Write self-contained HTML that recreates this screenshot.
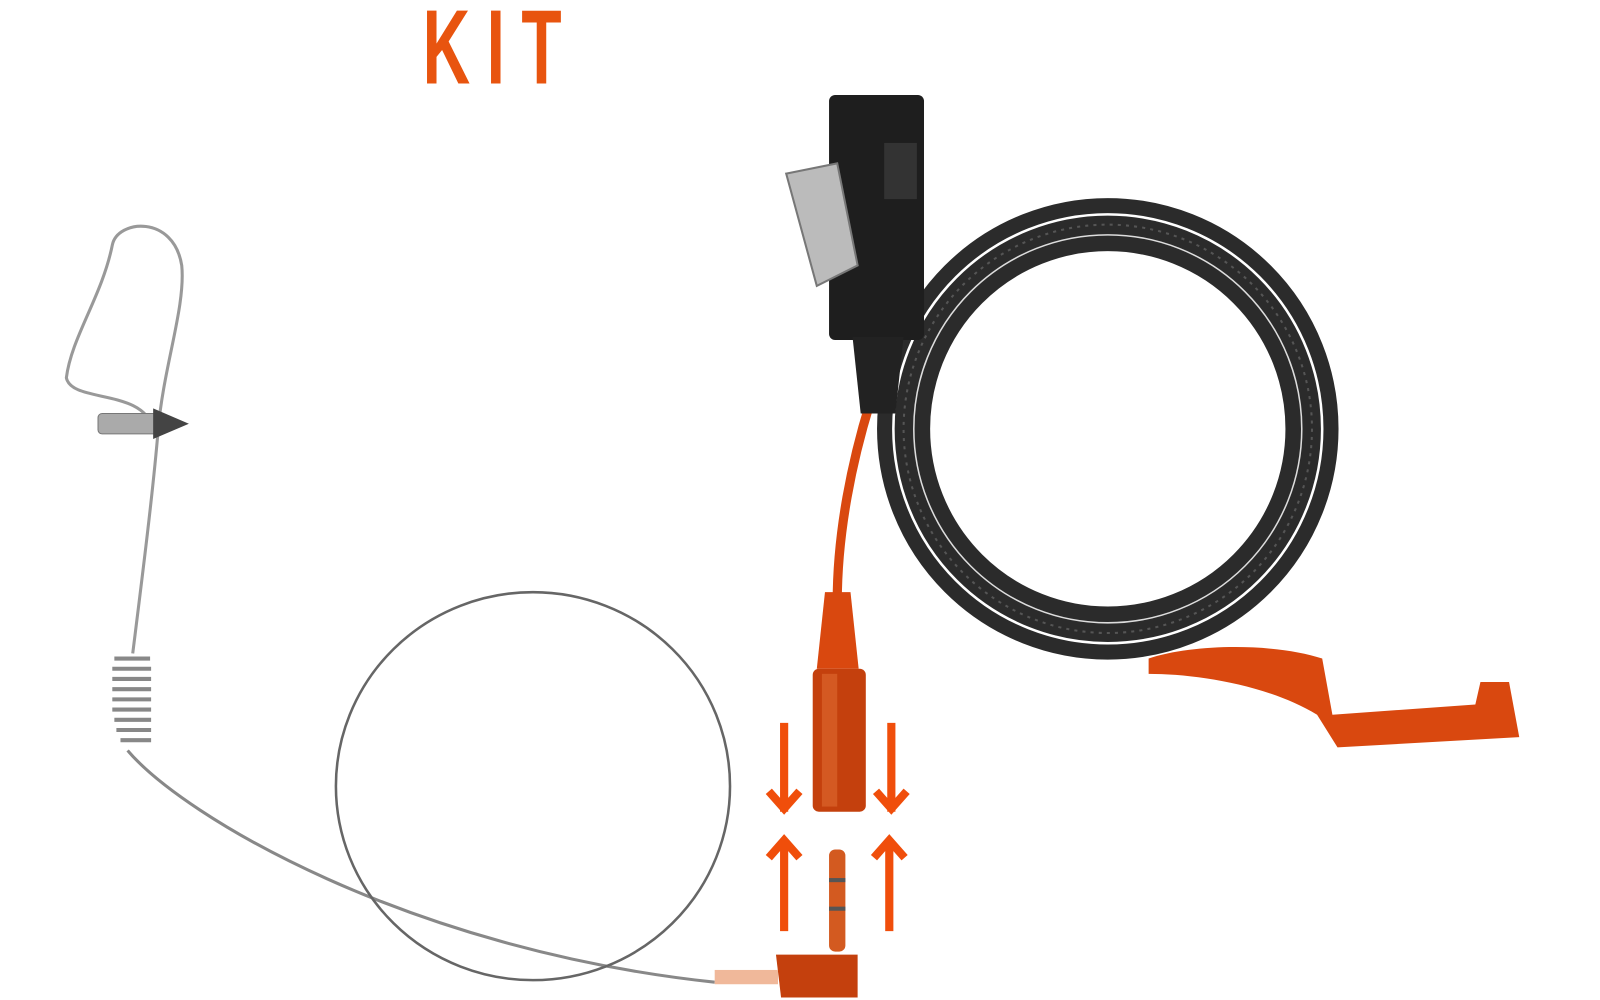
<!DOCTYPE html>
<html><head><meta charset="utf-8"><style>
html,body{margin:0;padding:0;background:#fff;width:1600px;height:1000px;overflow:hidden}
</style></head><body>
<svg width="1600" height="1000" viewBox="0 0 1600 1000" xmlns="http://www.w3.org/2000/svg">
<rect width="1600" height="1000" fill="#fff"/>
<g transform="scale(1.021)">
<text x="490" y="82" text-anchor="middle" font-family="Liberation Sans, sans-serif" font-weight="bold" font-size="104" fill="#e8540f" transform="translate(490,0) scale(0.62,1) translate(-490,0)" letter-spacing="26">KIT</text>

<path d="M150 420 C 140 380 70 395 65 370 C 70 330 100 290 110 240 C 115 215 170 210 178 260 C 182 300 160 360 155 420 C 150 480 140 560 130 640" fill="none" stroke="#999" stroke-width="3"/>
<rect x="96" y="405" width="60" height="20" rx="4" fill="#aaa" stroke="#777"/>
<path d="M150 400 L185 415 L150 430 Z" fill="#444"/>
<g stroke="#888" stroke-width="4" fill="none">
<path d="M112 645 h35 M110 655 h38 M110 665 h38 M110 675 h38 M110 685 h38 M110 695 h38 M112 705 h36 M114 715 h34 M118 725 h30"/>
</g>
<path d="M125 735 C 180 800 400 930 700 962" fill="none" stroke="#888" stroke-width="3"/>
<ellipse cx="522" cy="770" rx="193" ry="190" fill="none" stroke="#666" stroke-width="2.5"/>

<circle cx="1085" cy="420" r="200" fill="none" stroke="#2b2b2b" stroke-width="52"/>
<circle cx="1085" cy="420" r="200" fill="none" stroke="#555" stroke-width="2" stroke-dasharray="3 5"/>
<circle cx="1085" cy="420" r="210" fill="none" stroke="#fff" stroke-width="2.5"/>
<circle cx="1085" cy="420" r="190" fill="none" stroke="#ddd" stroke-width="1.5"/>

<path d="M852 395 C 835 450 820 520 820 590" fill="none" stroke="#d9480f" stroke-width="9"/>
<rect x="812" y="93" width="93" height="240" rx="6" fill="#1e1e1e"/>
<rect x="866" y="140" width="32" height="55" fill="#333"/>
<path d="M835 330 h50 l-8 75 h-34 z" fill="#222"/>
<path d="M770 170 L820 160 L840 260 L800 280 Z" fill="#bbb" stroke="#777" stroke-width="2"/>

<path d="M808 580 h25 l8 75 h-41 z" fill="#d9480f"/>
<rect x="796" y="655" width="52" height="140" rx="6" fill="#c4400d"/>
<rect x="805" y="660" width="15" height="130" fill="#e06a30" opacity="0.6"/>

<path d="M1125 645 C1170 630 1250 630 1295 645 L1305 700 L1445 690 L1450 668 L1478 668 L1488 722 L1310 732 L1290 700 C1240 670 1170 660 1125 660 Z" fill="#d9480f"/>

<g fill="none" stroke="#f04e0b" stroke-width="8">
<path d="M768 708 V795 M753 775 L768 792 L783 775"/>
<path d="M873 708 V795 M858 775 L873 792 L888 775"/>
<path d="M768 912 V822 M753 840 L768 823 L783 840"/>
<path d="M871 912 V822 M856 840 L871 823 L886 840"/>
</g>

<rect x="812" y="832" width="16" height="100" rx="6" fill="#d35a20"/>
<rect x="812" y="860" width="16" height="4" fill="#555"/>
<rect x="812" y="888" width="16" height="4" fill="#555"/>
<path d="M760 935 h80 v42 h-75 z" fill="#c4400d"/>
<rect x="700" y="950" width="62" height="14" fill="#f0b89a"/>
</g>
</svg>
</body></html>
